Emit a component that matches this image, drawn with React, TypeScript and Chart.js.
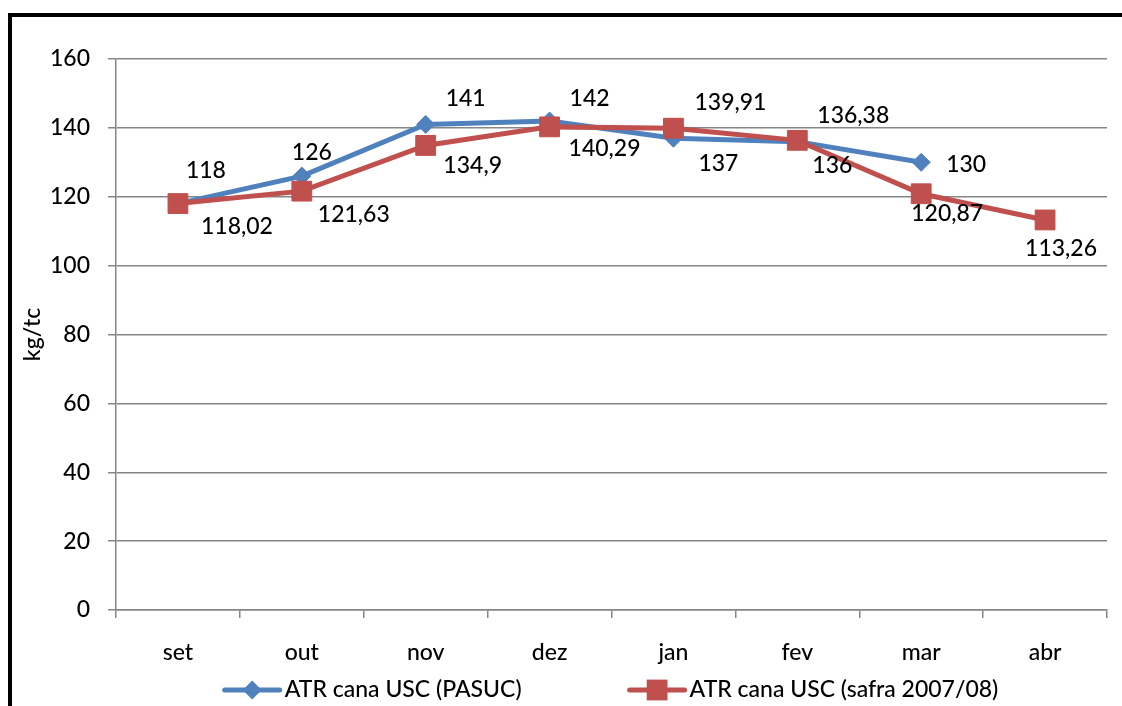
import React, { useEffect, useRef } from "react";
import { Chart, registerables } from "chart.js";

Chart.register(...registerables);

// ---- data ----
const MONTHS = ["set", "out", "nov", "dez", "jan", "fev", "mar", "abr"];
const PASUC = [118, 126, 141, 142, 137, 136, 130, null];
const SAFRA = [118.02, 121.63, 134.9, 140.29, 139.91, 136.38, 120.87, 113.26];
const SERIES_NAMES = ["ATR cana USC (PASUC)", "ATR cana USC (safra 2007/08)"];
const Y_MIN = 0;
const Y_MAX = 160;
const Y_STEP = 20;

// ---- label placement (pixel offsets of label centre from its point) ----
const PASUC_LABEL_OFFSETS: ([number, number] | null)[] = [
  [28, -33], [10, -24], [40, -26], [40, -22], [45, 25], [35, 24], [45, 2], null,
];
const SAFRA_LABEL_OFFSETS: ([number, number] | null)[] = [
  [59, 23], [52, 23], [47, 20], [55, 22], [57, -26], [56, -25], [26, 20], [16, 29],
];

// ---- styles ----
const FONT = "Lato, 'Open Sans', sans-serif";
const BLUE = "#4F81BD";
const RED = "#C0504D";
const GRID = "#868686";

const fmt = (v: number) => String(v).replace(".", ",");

const labelPlugin = {
  id: "pointLabels",
  afterDatasetsDraw(chart: any) {
    const ctx = chart.ctx;
    const offsets = [PASUC_LABEL_OFFSETS, SAFRA_LABEL_OFFSETS];
    ctx.save();
    ctx.font = `500 23px ${FONT}`;
    ctx.fillStyle = "#000";
    ctx.textAlign = "center";
    ctx.textBaseline = "middle";
    chart.data.datasets.forEach((ds: any, di: number) => {
      const meta = chart.getDatasetMeta(di);
      meta.data.forEach((pt: any, i: number) => {
        const v = ds.data[i];
        const off = offsets[di][i];
        if (v == null || !off) return;
        ctx.fillText(fmt(v), pt.x + off[0], pt.y + off[1]);
      });
    });
    ctx.restore();
  },
};

const legendPlugin = {
  id: "lineLegend",
  afterDraw(chart: any) {
    const ctx = chart.ctx;
    const area = chart.chartArea;
    const lineLen = 55;
    const textGap = 5;
    const itemGap = 108;
    const y = 690;
    ctx.save();
    ctx.font = `500 23px ${FONT}`;
    const items = chart.data.datasets.map((ds: any) => ({
      ds,
      w: ctx.measureText(ds.label).width,
    }));
    const total =
      items.reduce((s: number, it: any) => s + lineLen + textGap + it.w, 0) +
      itemGap * (items.length - 1);
    let x = (area.left + area.right) / 2 - total / 2;
    items.forEach((it: any) => {
      const ds = it.ds;
      ctx.strokeStyle = ds.borderColor;
      ctx.lineWidth = ds.borderWidth;
      ctx.lineCap = "round";
      ctx.beginPath();
      ctx.moveTo(x, y);
      ctx.lineTo(x + lineLen, y);
      ctx.stroke();
      const cx = x + lineLen / 2;
      ctx.fillStyle = ds.backgroundColor;
      ctx.beginPath();
      if (ds.pointStyle === "rectRot") {
        const r = ds.pointRadius + 0.5;
        ctx.moveTo(cx, y - r);
        ctx.lineTo(cx + r, y);
        ctx.lineTo(cx, y + r);
        ctx.lineTo(cx - r, y);
        ctx.closePath();
      } else {
        const h = ds.pointRadius * Math.SQRT1_2 + 0.5;
        ctx.rect(cx - h, y - h, 2 * h, 2 * h);
      }
      ctx.fill();
      ctx.fillStyle = "#000";
      ctx.textAlign = "left";
      ctx.textBaseline = "middle";
      ctx.fillText(ds.label, x + lineLen + textGap, y);
      x += lineLen + textGap + it.w + itemGap;
    });
    ctx.restore();
  },
};

export default function App() {
  const ref = useRef<HTMLCanvasElement | null>(null);

  useEffect(() => {
    document.body.style.margin = "0";
    document.body.style.overflow = "hidden";
    document.documentElement.style.overflow = "hidden";
    if (!ref.current) return;
    const chart = new Chart(ref.current, {
      type: "line",
      data: {
        labels: MONTHS,
        datasets: [
          {
            label: SERIES_NAMES[0],
            data: PASUC,
            borderColor: BLUE,
            backgroundColor: BLUE,
            borderWidth: 5,
            pointStyle: "rectRot",
            pointRadius: 9,
            pointBorderWidth: 1,
            pointBorderColor: BLUE,
            pointBackgroundColor: BLUE,
            tension: 0,
            spanGaps: false,
            order: 1,
          },
          {
            label: SERIES_NAMES[1],
            data: SAFRA,
            borderColor: RED,
            backgroundColor: RED,
            borderWidth: 5,
            pointStyle: "rect",
            pointRadius: 14,
            pointBorderWidth: 1,
            pointBorderColor: RED,
            pointBackgroundColor: RED,
            tension: 0,
            order: 0,
          },
        ],
      } as any,
      options: {
        responsive: false,
        animation: false,
        devicePixelRatio: 1,
        layout: { padding: { left: 0, top: 59, right: 10, bottom: 0 } },
        plugins: {
          legend: { display: false },
          tooltip: { enabled: false },
          title: { display: false },
        },
        scales: {
          x: {
            type: "category",
            offset: true,
            grid: {
              display: true,
              drawOnChartArea: false,
              drawTicks: true,
              tickLength: 8,
              color: GRID,
              lineWidth: 1.5,
              offset: true,
            },
            border: { display: true, color: GRID, width: 1.5 },
            ticks: {
              font: { family: FONT, size: 23, weight: "500" },
              color: "#000",
              padding: 21,
              maxRotation: 0,
              autoSkip: false,
            },
            afterFit: (s: any) => {
              s.height = 96;
            },
          },
          y: {
            min: Y_MIN,
            max: Y_MAX,
            ticks: {
              stepSize: Y_STEP,
              font: { family: FONT, size: 23, weight: "500" },
              color: "#000",
              padding: 18,
            },
            grid: { color: GRID, lineWidth: 1.5, tickLength: 8 },
            border: { color: GRID, width: 1.5 },
            title: {
              display: true,
              text: "kg/tc",
              font: { family: FONT, size: 23, weight: "500" },
              color: "#000",
              padding: { top: 19, bottom: 0 },
            },
            afterFit: (s: any) => {
              s.width = 116;
            },
          },
        },
      } as any,
      plugins: [labelPlugin, legendPlugin],
    });
    return () => chart.destroy();
  }, []);

  return (
    <div
      style={{
        position: "fixed",
        left: 0,
        top: 0,
        width: 1122,
        height: 706,
        overflow: "hidden",
        background: "#fff",
      }}
    >
      <div
        style={{
          position: "absolute",
          left: 8,
          top: 13,
          right: -50,
          bottom: -50,
          borderLeft: "4px solid #000",
          borderTop: "4px solid #000",
          boxSizing: "border-box",
        }}
      />
      <canvas
        ref={ref}
        width={1122}
        height={706}
        style={{ position: "absolute", left: 0, top: 0, width: 1122, height: 706 }}
      />
    </div>
  );
}
